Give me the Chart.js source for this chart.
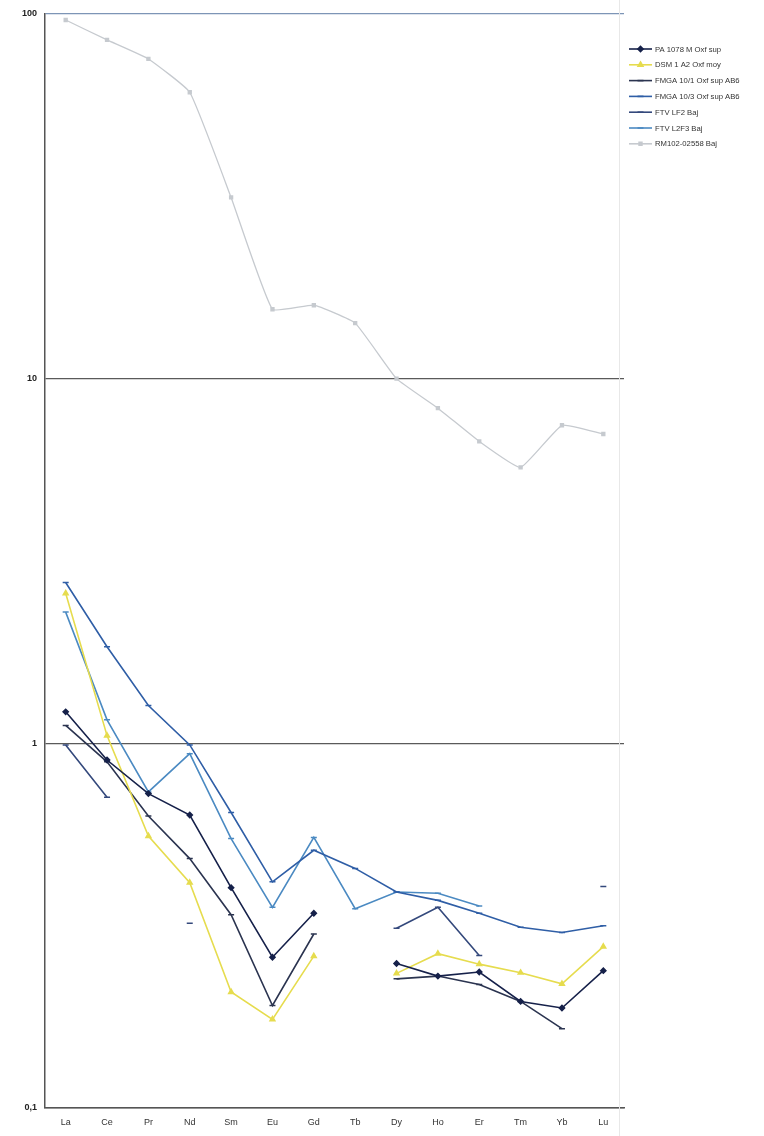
<!DOCTYPE html>
<html>
<head>
<meta charset="utf-8">
<script src="https://cdn.jsdelivr.net/npm/chart.js@4/dist/chart.umd.min.js"></script>
<style>
  html, body { margin: 0; padding: 0; background: #ffffff; }
  #wrap { position: relative; width: 764px; height: 1136px; }
</style>
</head>
<body>
<div id="wrap"><canvas id="c" width="764" height="1136"></canvas></div>
<script>
const categories = ['La','Ce','Pr','Nd','Sm','Eu','Gd','Tb','Dy','Ho','Er','Tm','Yb','Lu'];
const yTickValues = [0.1, 1, 10, 100];

const seriesNames = [
  'PA 1078 M Oxf sup',
  'DSM 1 A2 Oxf moy',
  'FMGA 10/1 Oxf sup AB6',
  'FMGA 10/3 Oxf sup AB6',
  'FTV LF2 Baj',
  'FTV L2F3 Baj',
  'RM102-02558 Baj'
];

const pa1078   = [1.22, 0.90, 0.728, 0.636, 0.402, 0.259, 0.342, null, 0.249, 0.230, 0.236, 0.196, 0.188, 0.238];
const dsm1a2   = [2.58, 1.05, 0.557, 0.415, 0.208, 0.175, 0.261, null, 0.234, 0.265, 0.248, 0.235, 0.219, 0.277];
const fmga101  = [1.12, 0.89, 0.632, 0.483, 0.339, 0.191, 0.300, null, 0.226, 0.230, 0.218, 0.196, 0.165, null];
const fmga103  = [2.76, 1.84, 1.27, 0.99, 0.646, 0.417, 0.509, 0.454, 0.391, 0.371, 0.342, 0.313, 0.303, 0.316];
const ftvlf2   = [0.99, 0.711, null, 0.321, null, null, null, null, 0.311, 0.355, 0.262, null, null, 0.405];
const ftvl2f3  = [2.29, 1.16, 0.736, 0.937, 0.548, 0.355, 0.552, 0.352, 0.391, 0.388, 0.358, null, null, null];
const rm102    = [96.3, 84.9, 75.3, 61.0, 31.4, 15.5, 15.9, 14.2, 10.0, 8.3, 6.73, 5.71, 7.45, 7.05];

const seriesValues = [pa1078, dsm1a2, fmga101, fmga103, ftvlf2, ftvl2f3, rm102];
const seriesColors = ['#16214a', '#e6dc4e', '#2b3450', '#2f5ea6', '#34497c', '#4b8ac2', '#c6cacf'];
const seriesPoints = ['rectRot', 'triangle', 'line', 'line', 'line', 'line', 'rect'];
const seriesRadius = [2.6, 2.8, 3, 3, 3, 3, 2];
const seriesWidth = [1.6, 1.6, 1.6, 1.6, 1.6, 1.6, 1.3];
const seriesTension = [0, 0, 0, 0, 0, 0, 0.12];

const datasets = seriesNames.map((name, i) => ({
  label: name,
  data: seriesValues[i],
  borderColor: seriesColors[i],
  backgroundColor: seriesColors[i],
  pointBackgroundColor: seriesColors[i],
  pointBorderColor: seriesColors[i],
  pointStyle: seriesPoints[i],
  pointRadius: seriesRadius[i],
  pointBorderWidth: 1.5,
  borderWidth: seriesWidth[i],
  tension: seriesTension[i],
  spanGaps: false
}));

const legendPlugin = {
  id: 'customLegend',
  afterDraw(chart) {
    const ctx = chart.ctx;
    ctx.save();
    ctx.strokeStyle = '#e8e8e8';
    ctx.lineWidth = 1;
    ctx.beginPath();
    ctx.moveTo(619.5, 0);
    ctx.lineTo(619.5, 1136);
    ctx.stroke();
    chart.data.datasets.forEach((ds, i) => {
      const y = 49 + i * 15.8;
      ctx.strokeStyle = ds.borderColor;
      ctx.lineWidth = 1.6;
      ctx.beginPath();
      ctx.moveTo(629, y);
      ctx.lineTo(652, y);
      ctx.stroke();
      Chart.helpers.drawPoint(ctx, {
        pointStyle: ds.pointStyle,
        radius: ds.pointRadius,
        borderWidth: 1.5,
        rotation: 0
      }, 640.5, y);
      ctx.fillStyle = ds.borderColor;
      ctx.fill();
      ctx.fillStyle = '#333333';
      ctx.font = '7.7px "Liberation Sans", Arial, sans-serif';
      ctx.textBaseline = 'middle';
      ctx.textAlign = 'left';
      ctx.fillText(ds.label, 655, y + 0.5);
    });
    ctx.restore();
  }
};

new Chart(document.getElementById('c'), {
  type: 'line',
  data: { labels: categories, datasets },
  plugins: [legendPlugin],
  options: {
    responsive: false,
    animation: false,
    layout: { padding: { top: 14, right: 140, left: 0, bottom: 0 } },
    plugins: { legend: { display: false }, tooltip: { enabled: false } },
    scales: {
      x: {
        type: 'category',
        offset: true,
        afterFit(scale) { scale.height = 28; },
        grid: { display: false, drawTicks: false },
        border: { display: true, color: '#555555', width: 1.5 },
        ticks: {
          color: '#333333',
          padding: 9,
          font: { family: '"Liberation Sans", Arial, sans-serif', size: 9 }
        }
      },
      y: {
        type: 'logarithmic',
        min: 0.1,
        max: 100,
        afterFit(scale) { scale.width = 45; },
        afterBuildTicks(scale) {
          scale.ticks = yTickValues.map(v => ({ value: v }));
        },
        grid: {
          drawTicks: false,
          color(ctx) {
            if (ctx.tick && ctx.tick.value === 100) return '#7d95b6';
            return '#5a5a5a';
          },
          lineWidth: 1.2
        },
        border: { display: true, color: '#555555', width: 1.5 },
        ticks: {
          color: '#222222',
          padding: 8,
          font: { family: '"Liberation Sans", Arial, sans-serif', size: 9, weight: 'bold' },
          callback(v) { return String(v).replace('.', ','); }
        }
      }
    }
  }
});
</script>
</body>
</html>
